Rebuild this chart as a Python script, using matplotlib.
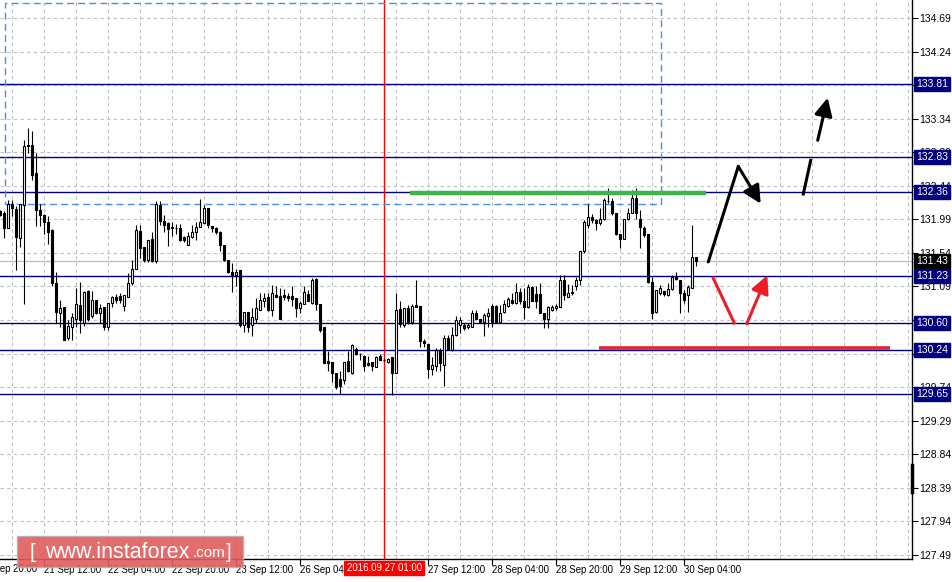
import matplotlib
matplotlib.use('Agg')
import matplotlib.pyplot as plt
import matplotlib.transforms as mtransforms
from matplotlib.patches import FancyBboxPatch, Rectangle
import numpy as np
import pandas as pd

plt.rcParams['font.family'] = ['Liberation Sans', 'DejaVu Sans']

# hourly bars 21 Sep 01:00 .. 30 Sep 07:00 (weekend skipped)
opens = [132.10, 132.08, 131.87, 132.19, 132.13, 131.74, 132.18, 132.99, 132.99, 132.61,
         132.12, 132.05, 131.96, 131.85, 131.14, 130.74, 130.82, 130.40, 130.55, 130.66,
         130.84, 130.60, 131.03, 130.69, 130.91, 130.74, 130.82, 130.54, 130.87, 130.95,
         130.96, 130.83, 130.95, 131.13, 131.33, 131.83, 131.62, 131.45, 131.72, 131.43,
         132.18, 131.97, 131.94, 131.89, 131.88, 131.88, 131.76, 131.64, 131.75, 131.82,
         131.89, 131.94, 132.14, 131.90, 131.87, 131.82, 131.65, 131.45, 131.29, 131.25,
         131.31, 130.57, 130.75, 130.57, 130.66, 130.77, 130.89, 130.95, 130.78, 130.98,
         130.96, 130.98, 130.96, 130.96, 130.94, 130.80, 130.86, 130.99, 130.87, 131.19,
         130.86, 130.54, 130.09, 130.08, 129.93, 129.85, 129.84, 130.09, 129.93, 130.25,
         130.19, 130.16, 130.07, 130.08, 130.01, 130.16, 130.10, 130.08, 130.15, 129.93,
         130.79, 130.58, 130.80, 130.62, 130.84, 130.83, 130.36, 130.32, 129.98, 130.02,
         130.24, 130.04, 130.40, 130.24, 130.44, 130.57, 130.57, 130.55, 130.55, 130.74,
         130.66, 130.62, 130.69, 130.83, 130.83, 130.62, 130.75, 130.83, 130.91, 130.87,
         131.02, 130.89, 130.81, 131.08, 130.99, 130.99, 130.74, 130.65, 130.77, 130.80,
         130.81, 131.18, 130.95, 131.00, 131.10, 131.18, 131.56, 131.91, 132.02, 131.98,
         131.94, 131.99, 132.24, 132.23, 132.07, 131.80, 131.72, 131.99, 132.07, 132.27,
         132.00, 131.87, 131.80, 131.15, 130.75, 131.00, 131.03, 130.98, 131.05, 131.22,
         131.18, 131.00, 130.97, 131.07, 131.48]
highs = [132.12, 132.10, 132.25, 132.25, 132.17, 132.19, 133.06, 133.22, 133.17, 132.88,
         132.20, 132.06, 132.03, 131.86, 131.29, 130.91, 130.82, 130.64, 130.73, 131.07,
         131.15, 131.03, 131.04, 131.03, 130.91, 130.86, 130.82, 130.87, 130.96, 130.99,
         131.00, 130.98, 131.27, 131.45, 131.92, 131.92, 131.62, 131.71, 131.82, 132.23,
         132.23, 132.05, 131.96, 131.96, 131.93, 131.93, 131.77, 131.82, 131.91, 131.96,
         132.26, 132.18, 132.14, 131.90, 131.89, 131.83, 131.65, 131.45, 131.40, 131.33,
         131.31, 130.75, 130.75, 130.80, 130.94, 131.00, 131.00, 131.00, 131.11, 131.10,
         131.07, 131.05, 131.00, 131.09, 130.94, 130.89, 131.09, 131.04, 131.20, 131.20,
         130.86, 130.54, 130.22, 130.08, 129.93, 129.95, 130.08, 130.23, 130.32, 130.28,
         130.20, 130.17, 130.16, 130.08, 130.16, 130.18, 130.12, 130.13, 130.15, 131.00,
         130.89, 130.80, 130.84, 130.86, 131.18, 130.83, 130.38, 130.32, 130.15, 130.26,
         130.26, 130.44, 130.44, 130.55, 130.69, 130.68, 130.60, 130.60, 130.77, 130.77,
         130.66, 130.74, 130.80, 130.85, 130.84, 130.84, 130.91, 130.95, 131.00, 131.13,
         131.07, 131.07, 131.12, 131.10, 131.09, 131.13, 130.74, 130.83, 130.84, 130.85,
         131.25, 131.24, 131.12, 131.11, 131.22, 131.57, 131.98, 132.20, 132.06, 131.99,
         132.14, 132.27, 132.41, 132.27, 132.07, 131.80, 132.00, 132.14, 132.38, 132.41,
         132.11, 131.90, 131.80, 131.22, 131.04, 131.11, 131.03, 131.13, 131.25, 131.29,
         131.18, 131.04, 131.11, 131.91, 131.48]
lows = [132.03, 131.74, 131.87, 132.03, 131.31, 131.62, 130.86, 132.88, 132.52, 131.90,
        131.90, 131.80, 131.66, 131.10, 130.60, 130.55, 130.37, 130.37, 130.37, 130.55,
        130.46, 130.56, 130.63, 130.67, 130.72, 130.60, 130.51, 130.51, 130.81, 130.87,
        130.87, 130.76, 130.95, 131.11, 131.32, 131.47, 131.42, 131.42, 131.42, 131.40,
        131.92, 131.82, 131.63, 131.77, 131.80, 131.70, 131.69, 131.64, 131.74, 131.71,
        131.89, 131.94, 131.87, 131.82, 131.80, 131.56, 131.43, 131.27, 131.01, 131.10,
        130.55, 130.48, 130.48, 130.42, 130.60, 130.77, 130.82, 130.76, 130.69, 130.95,
        130.66, 130.91, 130.89, 130.83, 130.68, 130.74, 130.86, 130.89, 130.85, 130.77,
        130.48, 130.06, 129.95, 129.81, 129.72, 129.65, 129.78, 129.94, 129.92, 130.17,
        130.10, 129.96, 130.03, 129.96, 130.01, 130.10, 130.09, 130.06, 129.63, 129.93,
        130.55, 130.55, 130.59, 130.59, 130.81, 130.28, 130.28, 129.86, 129.90, 129.96,
        129.95, 129.75, 130.24, 130.22, 130.43, 130.46, 130.51, 130.52, 130.55, 130.65,
        130.61, 130.43, 130.55, 130.55, 130.61, 130.60, 130.74, 130.82, 130.85, 130.85,
        130.86, 130.65, 130.80, 130.89, 130.80, 130.73, 130.53, 130.53, 130.76, 130.78,
        130.81, 130.91, 130.95, 130.98, 131.04, 131.11, 131.54, 131.87, 131.94, 131.85,
        131.92, 131.98, 132.21, 132.05, 131.78, 131.60, 131.72, 131.98, 132.07, 132.00,
        131.60, 131.76, 131.13, 130.65, 130.73, 130.98, 130.96, 130.96, 131.04, 131.18,
        130.74, 130.87, 130.75, 131.07, 131.36]
closes = [132.05, 131.88, 132.19, 132.14, 131.76, 132.19, 132.97, 132.97, 132.59, 132.12,
          132.05, 131.96, 131.82, 131.14, 130.75, 130.80, 130.37, 130.56, 130.68, 130.85,
          130.64, 131.02, 130.65, 130.91, 130.73, 130.80, 130.55, 130.87, 130.95, 130.91,
          130.91, 130.98, 131.14, 131.33, 131.85, 131.60, 131.45, 131.71, 131.43, 132.19,
          131.97, 131.91, 131.86, 131.87, 131.87, 131.71, 131.71, 131.77, 131.82, 131.89,
          131.96, 132.14, 131.91, 131.87, 131.82, 131.65, 131.44, 131.29, 131.24, 131.29,
          130.57, 130.75, 130.55, 130.68, 130.80, 130.91, 130.94, 130.78, 131.00, 130.95,
          130.66, 130.95, 130.94, 130.92, 130.80, 130.87, 131.01, 130.90, 131.18, 130.86,
          130.51, 130.06, 130.07, 129.93, 129.74, 129.75, 130.08, 129.95, 130.30, 130.18,
          130.18, 130.03, 130.04, 130.03, 130.15, 130.10, 130.11, 130.12, 129.93, 130.77,
          130.59, 130.80, 130.62, 130.83, 130.82, 130.36, 130.33, 129.99, 130.04, 130.24,
          130.06, 130.40, 130.25, 130.44, 130.64, 130.64, 130.53, 130.58, 130.74, 130.66,
          130.62, 130.71, 130.74, 130.62, 130.62, 130.74, 130.85, 130.92, 130.87, 131.02,
          130.89, 130.81, 131.08, 130.90, 130.90, 130.73, 130.65, 130.82, 130.82, 130.83,
          131.18, 130.98, 131.00, 131.02, 131.18, 131.57, 131.95, 132.02, 131.98, 131.94,
          131.99, 132.25, 132.23, 132.07, 131.80, 131.72, 131.99, 132.07, 132.27, 132.07,
          131.89, 131.78, 131.15, 130.73, 131.04, 131.07, 130.99, 131.05, 131.22, 131.19,
          131.00, 130.91, 131.08, 131.48, 131.43]

levels = [133.81, 132.83, 132.36, 131.23, 130.60, 130.24, 129.65]
last_price = 131.43
price_ticks = [134.69, 134.24, 133.79, 133.34, 132.89, 132.44, 131.99, 131.54, 131.09,
               130.64, 130.19, 129.74, 129.29, 128.84, 128.39, 127.94, 127.49]
time_labels = ['20 Sep 20:00', '21 Sep 12:00', '22 Sep 04:00', '22 Sep 20:00', '23 Sep 12:00',
               '26 Sep 04:00', '27 Sep 12:00', '28 Sep 04:00', '28 Sep 20:00', '29 Sep 12:00',
               '30 Sep 04:00']
marker_time = '2016.09.27 01:00'

# bar times (trading hours only)
hours = pd.date_range('2016-09-21 01:00', '2016-09-30 07:00', freq='h')
times = hours[hours.dayofweek < 5]


def bar_pos(label):
    t = pd.to_datetime('2016 ' + label, format='%Y %d %b %H:%M')
    if t < times[0]:
        return -(times[0] - t) / pd.Timedelta('1h')
    return times.get_loc(t)


fig = plt.figure(figsize=(9.53, 5.82), dpi=100)
ax = fig.add_axes([0, 23 / 582, 912 / 953, 559 / 582])

x = np.arange(len(opens))
o, h, l, c = (np.array(v) for v in (opens, highs, lows, closes))
up = c >= o

ax.vlines(x, l, h, color='black', lw=0.8, zorder=4)
ax.bar(x[up], (c - o)[up], bottom=o[up], width=0.5, color='white',
       edgecolor='black', lw=0.8, zorder=5)
ax.bar(x[~up], (o - c)[~up], bottom=c[~up], width=0.5, color='black',
       edgecolor='black', lw=0.8, zorder=5)

# support / resistance levels
for lv in levels:
    ax.axhline(lv, color='#000080', lw=1.0, zorder=2)
ax.axhline(last_price, color='#c0c0c0', lw=1.0, zorder=2)

# time marker
mk = times.get_loc(pd.to_datetime(marker_time, format='%Y.%m.%d %H:%M'))
ax.axvline(mk, color='#ff0000', lw=1.0, zorder=3)

# dashed selection rectangle
ax.add_patch(Rectangle((1.2, 132.2), 164.0, 2.69, fill=False, ec='#4a90e2',
                       lw=1.0, ls=(0, (5, 3)), zorder=3))

# scenario lines
ax.plot([102.4, 176.4], [132.34, 132.34], color='#3cb54a', lw=3.2, zorder=6,
        solid_capstyle='butt')
ax.plot([149.7, 222.4], [130.27, 130.27], color='#e8232a', lw=2.6, zorder=6,
        solid_capstyle='butt')

arrow_kw = dict(arrowstyle='-|>,head_length=0.9,head_width=0.45', lw=2.2,
                shrinkA=0, shrinkB=0, mutation_scale=12)
ax.plot([177.0, 184.5], [131.42, 132.70], color='black', lw=2.2, zorder=7,
        solid_capstyle='round')
ax.annotate('', xy=(190.1, 132.20), xytext=(184.5, 132.70),
            arrowprops=dict(color='black', **arrow_kw), zorder=7)
ax.plot([200.75, 202.6], [132.33, 132.78], color='black', lw=2.2, zorder=7)
ax.annotate('', xy=(206.85, 133.62), xytext=(204.35, 133.05),
            arrowprops=dict(color='black', **arrow_kw), zorder=7)
ax.plot([178.25, 183.5], [131.20, 130.60], color='#ee1c25', lw=2.2, zorder=7)
ax.annotate('', xy=(191.75, 131.24), xytext=(186.6, 130.59),
            arrowprops=dict(color='#ee1c25', **arrow_kw), zorder=7)

# axes
ax.set_facecolor('white')
for side in ('top', 'left'):
    ax.spines[side].set_visible(False)
for side in ('right', 'bottom'):
    ax.spines[side].set_linewidth(1.0)
    ax.spines[side].set_color('black')

ax.yaxis.tick_right()
ax.set_yticks(price_ticks)
# labels fully covered by level boxes are left blank
hidden = [133.79, 130.64]
ax.set_yticklabels(['' if p in hidden else f'{p:.2f}' for p in price_ticks])
ax.tick_params(axis='y', length=4, width=0.8, pad=1.5, labelsize=7.5)

tick_x = [bar_pos(s) for s in time_labels]
ax.set_xticks(tick_x[1:])
ax.set_xticklabels(time_labels[1:], ha='left')
ax.set_xticks(np.arange(3, 228, 8), minor=True)
ax.tick_params(axis='x', which='major', length=4, width=0.8, pad=0.5, labelsize=6.9)
ax.tick_params(axis='x', which='minor', length=0)

ax.set_xlim(-0.075, 227.925)
ax.set_ylim(127.436, 134.931)

ax.set_axisbelow(True)
ax.grid(True, axis='y', color='#c0c0c0', ls=(0, (3, 3)), lw=0.8)
ax.grid(True, axis='x', which='both', color='#c0c0c0', ls=(0, (3, 3)), lw=0.8)

xtrans = mtransforms.blended_transform_factory(ax.transData, ax.transAxes)
# first label lies left of the visible bars, cut by the chart edge
ax.text(tick_x[0], -0.0085, time_labels[0], transform=xtrans, fontsize=6.9,
        ha='left', va='top', clip_on=False)

# price labels on the scale
ytrans = mtransforms.blended_transform_factory(ax.transAxes, ax.transData)
for lv in levels:
    ax.text(1.0045, lv, f'{lv:.2f}', transform=ytrans, color='white', fontsize=7.5,
            va='center', ha='left', clip_on=False, zorder=10,
            bbox=dict(boxstyle='square,pad=0.2', fc='#000080', ec='#000080'))
ax.text(1.0045, last_price, f'{last_price:.2f}', transform=ytrans, color='white',
        fontsize=7.5, va='center', ha='left', clip_on=False, zorder=10,
        bbox=dict(boxstyle='square,pad=0.2', fc='black', ec='black'))
ax.plot([1.0005, 1.0005], [128.70, 128.33], transform=ytrans, color='black', lw=2.5,
        clip_on=False, zorder=10)

ax.text(mk, -0.016, marker_time, transform=xtrans, color='white', fontsize=6.9,
        va='center', ha='center', clip_on=False, zorder=10,
        bbox=dict(boxstyle='square,pad=0.25', fc='#ff0000', ec='#ff0000'))

# watermark
fig.patches.append(FancyBboxPatch((17 / 953, 15 / 582), 226 / 953, 31 / 582,
                                  boxstyle='square,pad=0', transform=fig.transFigure,
                                  fc='#e05c5c', ec='#b0b0b0', lw=1.0, alpha=0.9,
                                  zorder=20))
fig.text(30 / 953, 30 / 582, '[', color='white', fontsize=15, va='center',
         ha='left', zorder=21)
fig.text(45 / 953, 30 / 582, 'www.instaforex', color='white', fontsize=15.5,
         va='center', ha='left', zorder=21)
fig.text(193 / 953, 29 / 582, '.com', color='white', fontsize=11, va='center',
         ha='left', zorder=21)
fig.text(226 / 953, 30 / 582, ']', color='white', fontsize=15, va='center',
         ha='left', zorder=21)

fig.savefig('out.png', dpi=100, facecolor='white')
